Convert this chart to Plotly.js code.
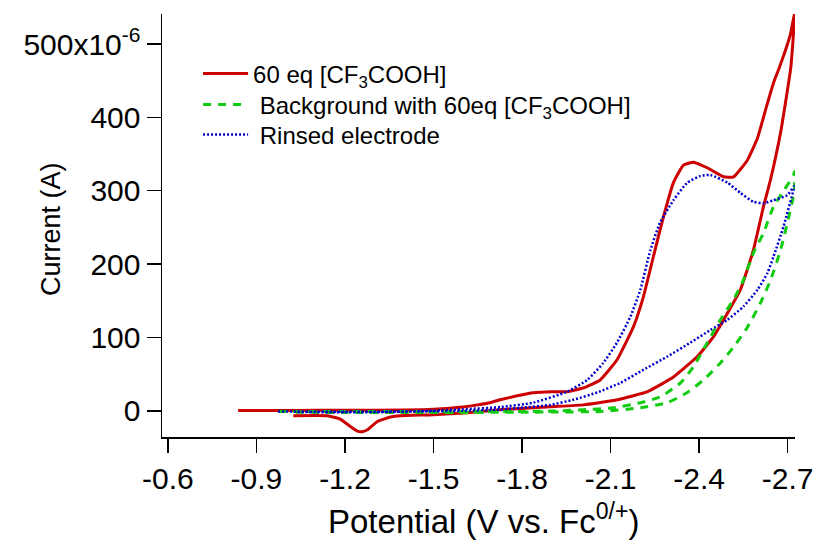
<!DOCTYPE html>
<html>
<head>
<meta charset="utf-8">
<script src="https://cdn.plot.ly/plotly-3.0.1.min.js"></script>
<style>html,body{margin:0;padding:0;background:#fff;}</style>
</head>
<body>
<div id="chart" style="width:817px;height:544px;"></div>
<script>
// ---- Data (potential in V vs Fc0/+, current in microamps) ----
const redName = "60 eq [CF<sub>3</sub>COOH]";
const greenName = "\u00a0Background with 60eq [CF<sub>3</sub>COOH]";
const blueName = "\u00a0Rinsed electrode";

const redV = [-0.838,-0.95,-1.025,-1.2,-1.4,-1.5,-1.6,-1.65,-1.7,-1.726,-1.78,-1.838,-1.9,-1.953,-2.007,-2.065,-2.122,-2.177,-2.211,-2.245,-2.279,-2.313,-2.347,-2.381,-2.429,-2.483,-2.517,-2.564,-2.598,-2.625,-2.652,-2.672,-2.693,-2.710,-2.724,
  -2.711,-2.676,-2.642,-2.618,-2.584,-2.540,-2.496,-2.449,-2.394,-2.313,-2.225,-2.123,-2.008,-1.896,-1.726,-1.615,-1.499,-1.387,-1.354,-1.310,-1.276,-1.259,-1.245,-1.218,-1.184,-1.140,-1.025];
const redI = [0.5,0.5,0.5,0.6,1,2,5,8,12,15,20,24.5,26,26,31,42,69.5,114,155,210,264,311,335,339,331,319,319,342,372,410,447,468,492,514,542,
  469,379,315,278,219,165,133,101,74,46,26,15,8,5.5,1.4,-2.7,-5.4,-6.8,-8.6,-14.6,-25.9,-28.5,-28.2,-21.4,-11.3,-6.8,-6.8];

const greenV = [-0.973,-1.2,-1.5,-1.8,-1.9,-2.008,-2.110,-2.201,-2.269,-2.337,-2.381,-2.428,-2.472,-2.516,-2.550,-2.584,-2.618,-2.652,-2.690,-2.720,-2.723,
  -2.723,-2.699,-2.676,-2.642,-2.608,-2.564,-2.517,-2.472,-2.415,-2.360,-2.293,-2.201,-2.066,-1.8,-1.5,-1.2,-1.03];
const greenI = [-1,-1,-1.2,-1,-0.5,1.4,4,11,19,38,60,93,124,151,178,215,242,278,302,321,326,
  300,256,219,178,147,114,87,65,42,25,11,4,-1,-2,-2.5,-2.5,-2];

const blueV = [-0.973,-1.2,-1.4,-1.5,-1.6,-1.726,-1.838,-1.953,-2.021,-2.075,-2.122,-2.167,-2.201,-2.235,-2.267,-2.313,-2.360,-2.404,-2.438,-2.496,-2.540,-2.584,-2.618,-2.652,-2.699,-2.720,-2.723,
  -2.720,-2.686,-2.652,-2.632,-2.598,-2.550,-2.496,-2.438,-2.371,-2.293,-2.212,-2.133,-2.055,-1.974,-1.896,-1.794,-1.726,-1.6,-1.45,-1.3,-1.15,-1.03];
const blueI = [-1,-1.5,-1,0,2,5,11,26,42,65,93,128,165,219,256,287,311,320,321.5,311,297,285,283,287,294,305,306,
  301,251,210,188,165,142,124,110,93,74,56,38,25,15,8,4,1.4,0,-1,-2,-2,-1.5];

const xTickVals = [-0.6,-0.9,-1.2,-1.5,-1.8,-2.1,-2.4,-2.7];
const xTickText = ["-0.6","-0.9","-1.2","-1.5","-1.8","-2.1","-2.4","-2.7"];
const yTickVals = [0,100,200,300,400,500];
const yTickText = ["0","100","200","300","400","500x10<sup>-6</sup>"];
const xTitle = "Potential (V vs. Fc<sup>0/+</sup>)";
const yTitle = "Current (A)";

const toAmps = arr => arr.map(v => v * 1e-6);

const FONT = "Liberation Sans, Arial, sans-serif";

const traces = [
  {x: redV, y: toAmps(redI), name: redName, mode: "lines", legend: "legend",
   line: {color: "#cc0000", width: 3, shape: "spline", smoothing: 0.4}},
  {x: greenV, y: toAmps(greenI), name: greenName, mode: "lines", legend: "legend2",
   line: {color: "#11cc11", width: 3, dash: "8px,7px", shape: "spline", smoothing: 0.5}},
  {x: blueV, y: toAmps(blueI), name: blueName, mode: "lines", legend: "legend3",
   line: {color: "#0000cc", width: 2.5, dash: "2px,2px", shape: "spline", smoothing: 0.5}}
];

const legendBase = {x: 0.057, xanchor: "left", yanchor: "middle", bgcolor: "rgba(0,0,0,0)",
  font: {family: FONT, size: 24, color: "#000"}, itemwidth: 45};

const layout = {
  width: 817, height: 544,
  margin: {l: 162, r: 22, t: 14, b: 107},
  paper_bgcolor: "#fff", plot_bgcolor: "#fff",
  font: {family: FONT, color: "#000", size: 24},
  showlegend: true,
  legend: Object.assign({}, legendBase, {y: 0.8582}),
  legend2: Object.assign({}, legendBase, {y: 0.7849}),
  legend3: Object.assign({}, legendBase, {y: 0.7139}),
  xaxis: {
    range: [-0.58, -2.725], tickmode: "array", tickvals: xTickVals, ticktext: xTickText,
    ticks: "outside", ticklen: 14, tickwidth: 1.5, tickcolor: "#000",
    showline: true, linewidth: 1.5, linecolor: "#000", showgrid: false, zeroline: false,
    tickfont: {family: FONT, size: 30, color: "#000"}
  },
  yaxis: {
    range: [-35.8e-6, 541e-6], tickmode: "array", tickvals: toAmps(yTickVals), ticktext: yTickText,
    ticks: "outside", ticklen: 14, tickwidth: 1.5, tickcolor: "#000",
    showline: true, linewidth: 1.5, linecolor: "#000", showgrid: false, zeroline: false,
    tickfont: {family: FONT, size: 30, color: "#000"}
  },
  annotations: [
    {text: xTitle, xref: "paper", yref: "paper", x: 0.5087, y: -0.1939, xanchor: "center", yanchor: "middle",
     showarrow: false, font: {family: FONT, size: 33, color: "#000"}},
    {text: yTitle, xref: "paper", yref: "paper", x: -0.1754, y: 0.4917, xanchor: "center", yanchor: "middle",
     textangle: -90, showarrow: false, font: {family: FONT, size: 27, color: "#000"}}
  ]
};

Plotly.newPlot("chart", traces, layout, {displayModeBar: false, staticPlot: true});
</script>
</body>
</html>
